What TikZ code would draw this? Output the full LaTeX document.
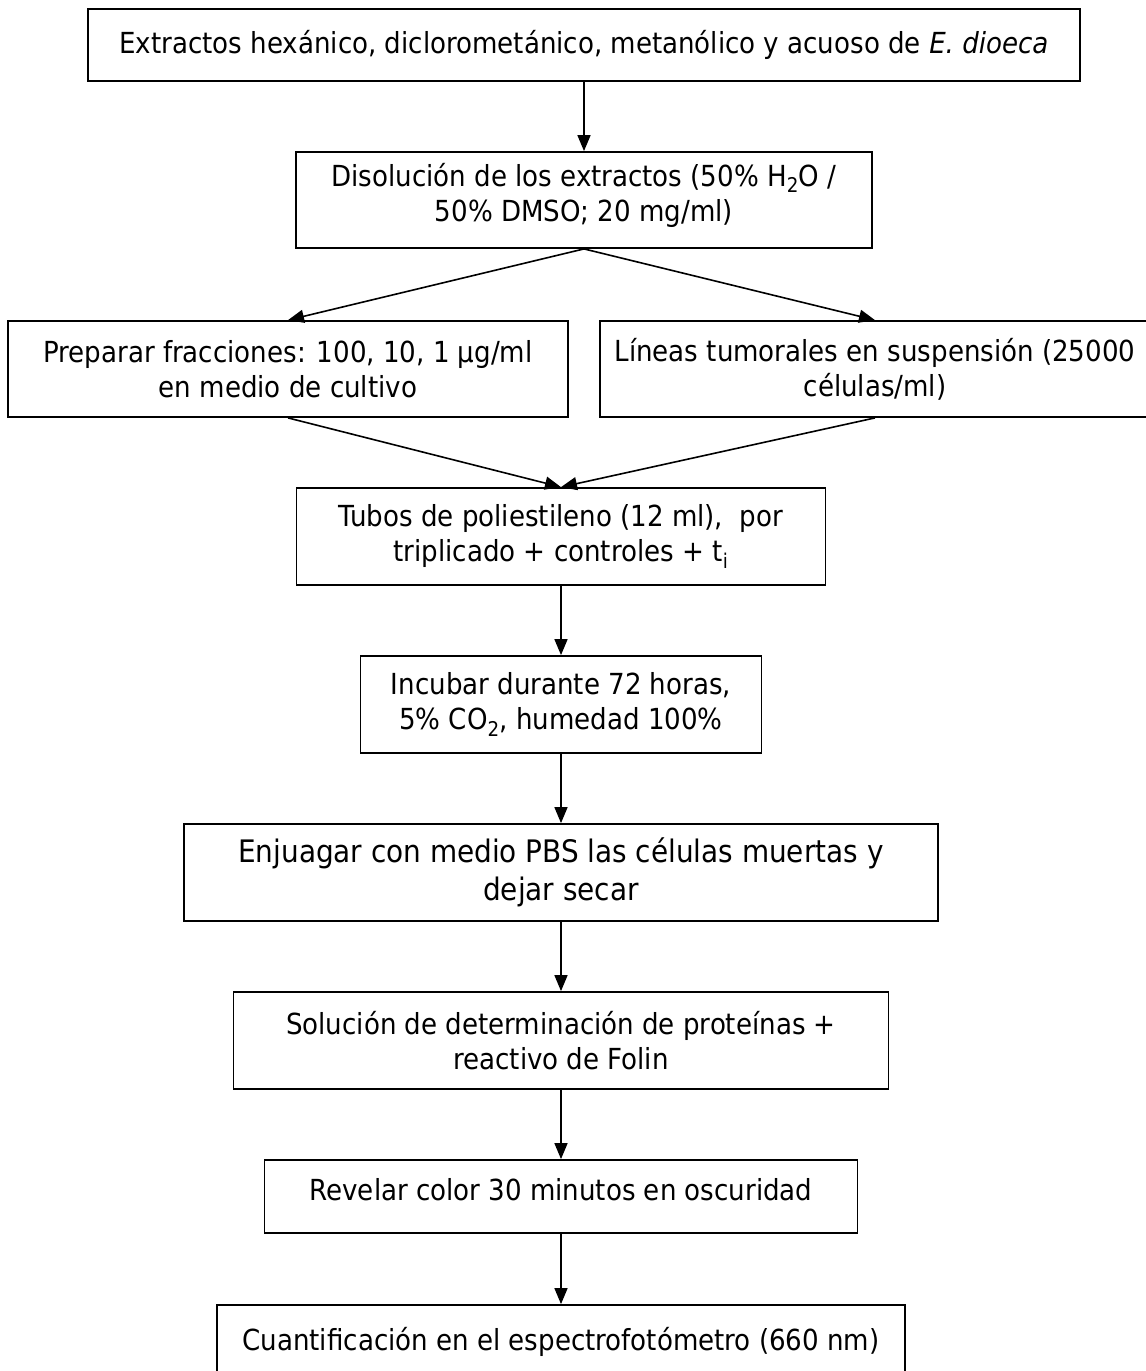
\documentclass[tikz,border=0pt]{standalone}
\usepackage{fontspec}
\setmainfont{DejaVu Sans Condensed}
\usetikzlibrary{arrows.meta,calc}
\begin{document}
\begin{tikzpicture}[x=1pt,y=-1pt,
  box/.style={draw,line width=1.8pt,inner sep=0pt,align=center,font=\fontsize{29}{35}\selectfont},
  bigbox/.style={box,font=\fontsize{31}{38}\selectfont},
  arr/.style={line width=1.6pt,-{Triangle[length=16pt,width=13pt]}}]
\useasboundingbox (0,0) rectangle (1146,1371);
\fill[white] (0,0) rectangle (1146,1371);
% boxes
\node[box,minimum width=992pt,minimum height=72pt] (b1) at (584,45)
  {Extractos hexánico, diclorometánico, metanólico y acuoso de \textit{E. dioeca}};
\node[box,minimum width=576pt,minimum height=96pt,text depth=16pt] (b2) at (584,200)
  {Disolución de los extractos (50\% H\textsubscript{2}O /\\50\% DMSO; 20 mg/ml)};
\node[box,minimum width=560pt,minimum height=96pt] (b3) at (288,369)
  {Preparar fracciones: 100, 10, 1 μg/ml\\en medio de cultivo};
\node[box,minimum width=550pt,minimum height=96pt] (b4) at (875,369)
  {Líneas tumorales en suspensión (25000\\células/ml)};
\node[box,minimum width=529pt,minimum height=97pt] (b5) at (561,536.5)
  {Tubos de poliestileno (12 ml),\ \ por\\triplicado + controles + t\textsubscript{i}};
\node[box,minimum width=401pt,minimum height=97pt] (b6) at (561,704.5)
  {Incubar durante 72 horas,\\5\% CO\textsubscript{2}, humedad 100\%};
\node[bigbox,minimum width=754pt,minimum height=97pt] (b7) at (561,872.5)
  {Enjuagar con medio PBS las células muertas y\\dejar secar};
\node[box,minimum width=655pt,minimum height=97pt] (b8) at (561,1040.5)
  {Solución de determinación de proteínas +\\reactivo de Folin};
\node[box,minimum width=593pt,minimum height=73pt,text depth=14pt] (b9) at (561,1196.5)
  {Revelar color 30 minutos en oscuridad};
\node[box,minimum width=688pt,minimum height=73pt] (b10) at (561,1341.5)
  {Cuantificación en el espectrofotómetro (660 nm)};
% arrows
\draw[arr] (b1.south) -- (b2.north);
\draw[arr] (b2.south) -- (b3.north);
\draw[arr] (b2.south) -- (b4.north);
\draw[arr] (b3.south) -- (b5.north);
\draw[arr] (b4.south) -- (b5.north);
\draw[arr] (b5.south) -- (b6.north);
\draw[arr] (b6.south) -- (b7.north);
\draw[arr] (b7.south) -- (b8.north);
\draw[arr] (b8.south) -- (b9.north);
\draw[arr] (b9.south) -- (b10.north);
\end{tikzpicture}
\end{document}
